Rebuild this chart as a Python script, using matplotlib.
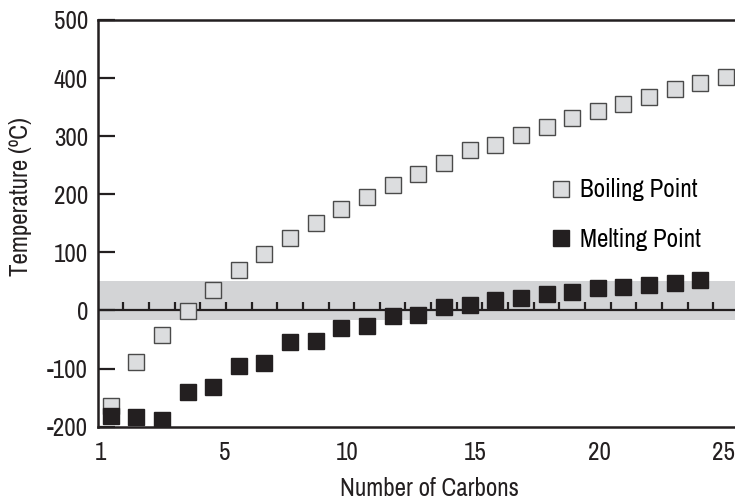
import matplotlib
matplotlib.use('Agg')
import matplotlib.pyplot as plt
from matplotlib import font_manager
import numpy as np

# narrow face close to the original; fall back to condensed DejaVu
names = set(f.name for f in font_manager.fontManager.ttflist)
if 'Archivo Narrow' in names:
    plt.rcParams['font.family'] = ['Archivo Narrow', 'DejaVu Sans']
else:
    plt.rcParams['font.family'] = ['DejaVu Sans']
    plt.rcParams['font.stretch'] = 'condensed'

# data
carbons = np.arange(1, 26)
boiling = [-164, -89, -42, -1, 36, 69, 98, 125, 151, 174, 196, 216, 235,
           253, 276, 284, 302, 316, 331, 344, 356, 368, 381, 392, 402]
melting_carbons = np.arange(1, 25)
melting = [-182, -184, -189, -140, -131, -95, -91, -54, -52, -30, -26, -10, -7,
           6, 10, 18, 22, 28, 32, 38, 40, 44, 47, 53]
band_low, band_high = -17, 51
x_labels = ['1', '5', '10', '15', '20', '25']
x_label_pos = [0.1, 4.96, 9.71, 14.71, 19.58, 24.4]
y_ticks = [-200, -100, 0, 100, 200, 300, 400, 500]

fs = 18

fig = plt.figure(figsize=(7.35, 4.99), dpi=100)
ax = fig.add_axes([0.133, 0.145, 0.867, 0.815])

ax.axhspan(band_low, band_high, color='#d3d4d6', lw=0, zorder=0)
ax.axhline(0, color='#231f20', lw=1.6, zorder=1)
# small ticks standing on the zero line
for c in carbons[:-1]:
    ax.plot([c, c], [0, 15], color='#231f20', lw=1.6, zorder=1, solid_capstyle='butt')

ax.plot(carbons - 0.5, boiling, 's', ms=11.5, mfc='#dcdddf', mec='#4a4a4a', mew=1.0,
        ls='none', label='Boiling Point', zorder=3)
ax.plot(melting_carbons - 0.5, melting, 's', ms=11.5, mfc='#231f20', mec='#231f20', mew=1.0,
        ls='none', label='Melting Point', zorder=4)

ax.set_xlim(0, 24.85)
ax.set_ylim(-200, 500)
ax.set_yticks(y_ticks)
ax.set_yticklabels([str(v) for v in y_ticks], fontsize=fs, color='#231f20')
ax.set_xticks(x_label_pos)
ax.set_xticklabels(x_labels, fontsize=fs, color='#231f20')
ax.tick_params(axis='x', length=0, pad=10)
ax.tick_params(axis='y', direction='in', length=12, width=1.6, color='#231f20', pad=7)

for s in ['left', 'top', 'bottom']:
    ax.spines[s].set_linewidth(1.8)
    ax.spines[s].set_color('#231f20')
ax.spines['right'].set_visible(False)

ax.set_xlabel('Number of Carbons', fontsize=fs, color='#231f20')
ax.xaxis.set_label_coords(0.52, -0.125)
ax.set_ylabel('Temperature (ºC)', fontsize=fs, color='#231f20')
ax.yaxis.set_label_coords(-0.103, 0.565)

ax.legend(loc='upper left', bbox_to_anchor=(0.696, 0.635), frameon=False, fontsize=fs,
          handlelength=0.8, handletextpad=0.35, labelspacing=1.05, borderaxespad=0)

fig.savefig('out.png', dpi=100)
